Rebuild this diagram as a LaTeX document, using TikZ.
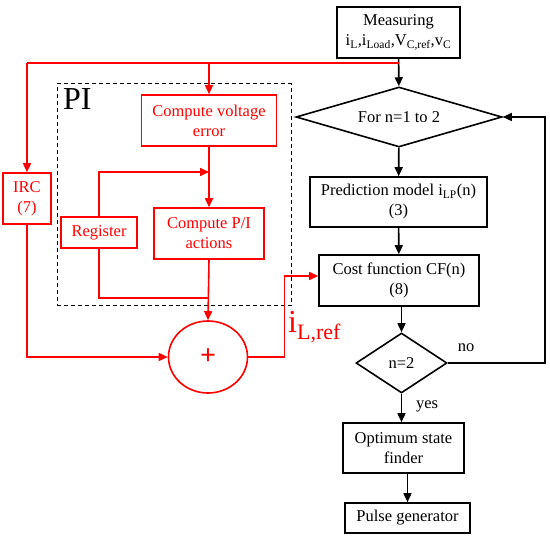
\documentclass[tikz,border=0pt]{standalone}
\usepackage{fontspec}
\setmainfont{Liberation Serif}
\usetikzlibrary{shapes.geometric,arrows.meta}
\begin{document}
\begin{tikzpicture}[x=1pt,y=-1pt,
  every node/.style={font=\fontsize{16.5}{20}\selectfont},
  bbox/.style={draw=black,line width=1.6pt,align=center,inner sep=0pt},
  rbox/.style={draw=red,text=red,line width=1.6pt,align=center,inner sep=0pt},
  bdia/.style={draw=black,line width=1.6pt,shape=diamond,inner sep=0pt,align=center},
  barr/.style={draw=black,line width=1.6pt,-{Triangle[length=9pt,width=8pt]}},
  rarr/.style={draw=red,line width=1.6pt,-{Triangle[length=9pt,width=8pt]}},
  rline/.style={draw=red,line width=1.6pt},
  lbl/.style={inner sep=0pt}]
\useasboundingbox (0,0) rectangle (550,537);
\fill[white] (0,0) rectangle (550,537);

% PI dashed frame
\node[draw=black,dash pattern=on 4pt off 3pt,line width=1pt,minimum width=234pt,minimum height=222pt,inner sep=0pt] (pibox) at (174,195) {};
\node[lbl,anchor=north west,font=\fontsize{32}{32}\selectfont] (pilbl) at (63,88) {PI};

% black flow
\node[bbox,minimum width=123pt,minimum height=51pt] (meas) at (398.5,32.5) {Measuring\\ i\textsubscript{L},i\textsubscript{Load},V\textsubscript{C,ref},v\textsubscript{C}};
\node[bdia,minimum width=206pt,minimum height=60pt,aspect=3.43] (loop) at (399,117) {For n=1 to 2};
\node[bbox,minimum width=177pt,minimum height=50pt] (pred) at (398.5,202) {Prediction model i\textsubscript{LP}(n)\\(3)};
\node[bbox,minimum width=160pt,minimum height=51pt] (cost) at (399,280.5) {Cost function CF(n)\\(8)};
\node[bdia,minimum width=91pt,minimum height=60pt,aspect=1.52] (chk) at (401.5,363) {n=2};
\node[bbox,minimum width=121pt,minimum height=50pt] (opt) at (403.5,448) {Optimum state\\finder};
\node[bbox,minimum width=125pt,minimum height=30pt] (pulse) at (407.5,518) {Pulse generator};
\node[lbl] (no) at (466,348) {no};
\node[lbl] (yes) at (427,406) {yes};

\draw[barr] (meas) -- (loop);
\draw[barr] (loop) -- (pred);
\draw[barr] (pred) -- (cost);
\draw[barr] (cost.south -| chk.north) -- (chk.north);
\draw[barr] (chk.south) -- (chk.south |- opt.north);
\draw[barr] (opt.south -| pulse.north) -- (pulse.north);
\draw[barr] (chk.east) -- ++(97,0) |- (loop.east);

% red part
\node[rbox,minimum width=135pt,minimum height=51pt] (cve) at (209,120.5) {Compute voltage\\error};
\node[rbox,minimum width=110pt,minimum height=51pt] (pia) at (209,233.5) {Compute P/I\\actions};
\node[rbox,minimum width=76pt,minimum height=31pt] (reg) at (99,232.5) {Register};
\node[rbox,minimum width=48pt,minimum height=51pt] (irc) at (27,198.5) {IRC\\(7)};
\node[draw=red,line width=1.6pt,ellipse,minimum width=79pt,minimum height=72pt,inner sep=0pt,text=red,font=\fontsize{28}{28}\selectfont\bfseries] (sum) at (208,357) {+};

\coordinate (tl) at (27,63);
\coordinate (j1) at (209,172);
\coordinate (j2) at (209,298);
\coordinate (bend) at (284.5,276);
\draw[rline] (tl) -- (tl -| meas.south);
\draw[rarr] (tl) -- (irc.north);
\draw[rarr] (tl -| cve.north) -- (cve.north);
\draw[rarr] (cve.south) -- (pia.north);
\draw[rarr] (reg.north) |- (j1);
\draw[rline] (reg.south) |- (j2);
\draw[rarr] (pia.south) -- (sum.north);
\draw[rarr] (irc.south) |- (sum.west);
\draw[rarr] (sum.east) -| (bend) -- (bend -| cost.west);

\node[lbl,anchor=base west,text=red,font=\fontsize{32}{32}\selectfont] (iref) at (288,333) {i\raisebox{-7pt}{\fontsize{22}{22}\selectfont L,ref}};
\end{tikzpicture}
\end{document}
